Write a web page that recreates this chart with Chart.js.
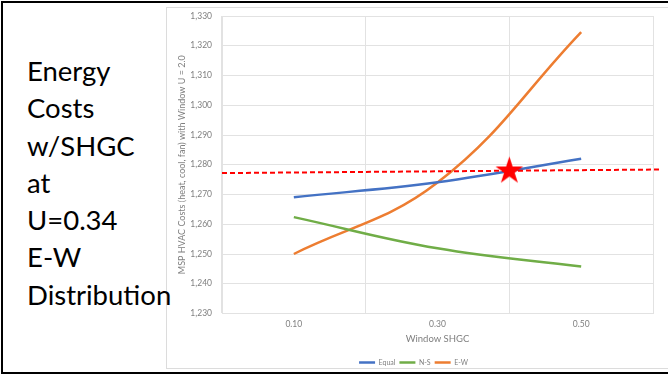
<!DOCTYPE html>
<html>
<head>
<meta charset="utf-8">
<script src="https://cdn.jsdelivr.net/npm/chart.js@4/dist/chart.umd.min.js"></script>
<style>
  html, body { margin: 0; padding: 0; background: #fff; }
  #wrap { position: relative; width: 668px; height: 377px; overflow: hidden; background: #fff; }
  #frame { position: absolute; left: 1px; top: 1px; width: 700px; height: 373px; box-sizing: border-box;
           border: 2px solid #000; border-right: none; }
  #panel { position: absolute; left: 166px; top: 7px; width: 520px; height: 362px; box-sizing: border-box;
           border: 1px solid #dcdcdc; }
  #caption { position: absolute; left: 27px; top: 52px; font-family: Lato, "Open Sans", sans-serif;
             font-size: 27.5px; line-height: 37.3px; color: #000; white-space: nowrap; }
  #chart { position: absolute; left: 0; top: 0; }
</style>
</head>
<body>
<div id="wrap">
  <div id="frame"></div>
  <div id="panel"></div>
  <div id="caption">Energy<br>Costs<br>w/SHGC<br>at<br>U=0.34<br>E-W<br>Distribution</div>
  <canvas id="chart" width="668" height="377"></canvas>
</div>
<script>
// Window SHGC categories and HVAC cost per distribution
const shgcLabels = ['0.10', '0.30', '0.50'];
const equalCosts = [1269.1, 1274.1, 1282.0];
const nsCosts    = [1262.4, 1251.9, 1245.8];
const ewCosts    = [1250.0, 1274.0, 1324.6];

// Cost axis range and step
const costMin = 1230;
const costMax = 1330;
const costStep = 10;

// Target cost reference line (SHGC, cost) and the chosen design point
const targetLine = [{ x: 0.0, y: 1277.2 }, { x: 0.611, y: 1278.4 }];
const chosenPoint = [{ x: 0.40, y: 1277.9 }];

const axisGray = '#7f7f7f';
const gridGray = '#e2e2e2';
const fontFamily = 'Lato, "Open Sans", sans-serif';

// filled five-point star used as the marker of the chosen point
function starMarker(r, color) {
  const size = Math.ceil(r * 2) + 2;
  const c = document.createElement('canvas');
  c.width = size; c.height = size;
  const g = c.getContext('2d');
  g.fillStyle = color;
  g.beginPath();
  for (let i = 0; i < 10; i++) {
    const rad = i % 2 ? r * 0.382 : r;
    const a = -Math.PI / 2 + i * Math.PI / 5;
    g.lineTo(size / 2 + rad * Math.cos(a), size / 2 + rad * Math.sin(a));
  }
  g.closePath();
  g.fill();
  return c;
}

new Chart(document.getElementById('chart'), {
  type: 'line',
  data: {
    labels: shgcLabels,
    datasets: [
      {
        label: 'chosen',
        data: chosenPoint,
        xAxisID: 'xs',
        showLine: false,
        pointStyle: starMarker(14.5, '#ff0000'),
        pointRadius: 14,
        clip: false
      },
      {
        label: 'target',
        data: targetLine,
        xAxisID: 'xs',
        borderColor: '#ff0000',
        borderWidth: 2,
        borderDash: [5, 3],
        pointRadius: 0,
        tension: 0,
        clip: false
      },
      {
        label: 'Equal',
        data: equalCosts,
        borderColor: '#4472c4',
        backgroundColor: '#4472c4',
        borderWidth: 2.5,
        pointRadius: 0,
        tension: 0.4
      },
      {
        label: 'N-S',
        data: nsCosts,
        borderColor: '#70ad47',
        backgroundColor: '#70ad47',
        borderWidth: 2.5,
        pointRadius: 0,
        tension: 0.4
      },
      {
        label: 'E-W',
        data: ewCosts,
        borderColor: '#ed7d31',
        backgroundColor: '#ed7d31',
        borderWidth: 2.5,
        pointRadius: 0,
        tension: 0.4
      }
    ]
  },
  options: {
    responsive: false,
    animation: false,
    layout: { padding: { left: 167, top: 16, right: 8, bottom: 1 } },
    plugins: {
      tooltip: { enabled: false },
      legend: {
        position: 'bottom',
        labels: {
          usePointStyle: true,
          pointStyle: 'line',
          pointStyleWidth: 16,
          boxHeight: 6,
          padding: 4,
          color: axisGray,
          font: { family: fontFamily, size: 7 },
          filter: (item) => item.datasetIndex >= 2
        }
      }
    },
    scales: {
      x: {
        type: 'category',
        offset: true,
        grid: { offset: true, color: gridGray, drawTicks: false },
        border: { color: gridGray },
        ticks: { color: axisGray, padding: 6, font: { family: fontFamily, size: 8.5 } },
        title: {
          display: true, text: 'Window SHGC', color: axisGray,
          font: { family: fontFamily, size: 9.5 }, padding: { top: 0, bottom: 10.5 }
        },
        afterFit: (s) => { s.height = 41.5; }
      },
      xs: {
        type: 'linear',
        display: false,
        min: 0,
        max: 0.6
      },
      y: {
        min: costMin,
        max: costMax,
        grid: { color: gridGray, drawTicks: false },
        border: { color: gridGray },
        ticks: {
          stepSize: costStep,
          padding: 10,
          color: axisGray,
          font: { family: fontFamily, size: 8.5 },
          callback: (v) => v.toLocaleString('en-US')
        },
        title: {
          display: true,
          text: 'MSP HVAC Costs (heat, cool, fan) with Window U = 2.0',
          color: axisGray,
          font: { family: fontFamily, size: 9 },
          padding: { top: 10, bottom: 0 }
        },
        afterFit: (s) => { s.width = 55; }
      }
    }
  }
});
</script>
</body>
</html>
